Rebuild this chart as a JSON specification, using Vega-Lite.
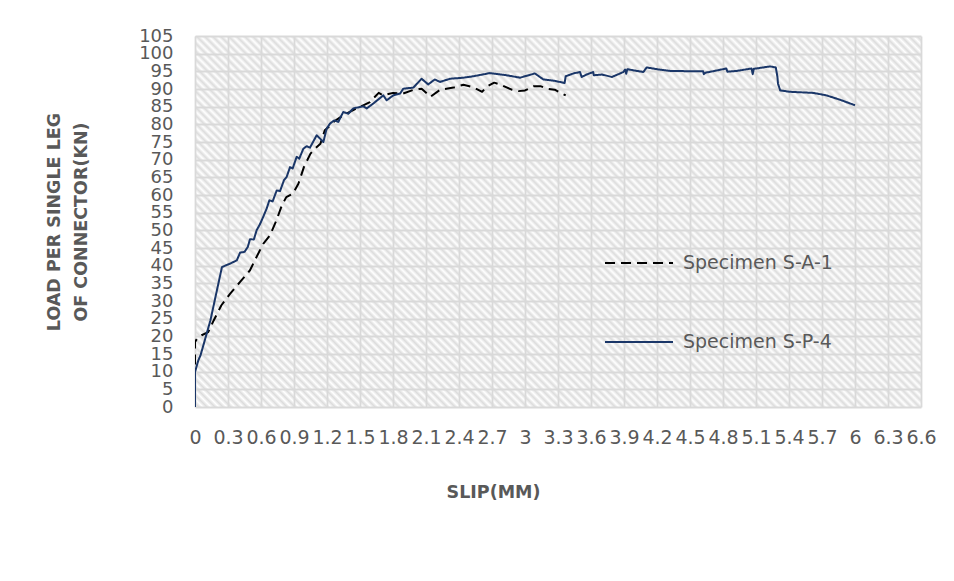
{
  "$schema": "https://vega.github.io/schema/vega-lite/v6.json",
  "autosize": "none",
  "width": 726,
  "height": 371,
  "padding": {"left": 195, "top": 36, "right": 33, "bottom": 174},
  "background": "#ffffff",
  "view": {
    "stroke": null,
    "fill": {
      "gradient": "linear", "x1": 0, "y1": 1, "x2": 1.198, "y2": 0.388,
      "stops": [
{"offset":0,"color":"#fff"},{"offset":0.0036,"color":"#dcdcdc"},{"offset":0.0073,"color":"#fff"},{"offset":0.0109,"color":"#dcdcdc"},{"offset":0.0146,"color":"#fff"},{"offset":0.0182,"color":"#dcdcdc"},{"offset":0.0219,"color":"#fff"},{"offset":0.0255,"color":"#dcdcdc"},{"offset":0.0292,"color":"#fff"},{"offset":0.0328,"color":"#dcdcdc"},
{"offset":0.0365,"color":"#fff"},{"offset":0.0401,"color":"#dcdcdc"},{"offset":0.0438,"color":"#fff"},{"offset":0.0474,"color":"#dcdcdc"},{"offset":0.0511,"color":"#fff"},{"offset":0.0547,"color":"#dcdcdc"},{"offset":0.0584,"color":"#fff"},{"offset":0.0620,"color":"#dcdcdc"},{"offset":0.0657,"color":"#fff"},{"offset":0.0693,"color":"#dcdcdc"},
{"offset":0.0730,"color":"#fff"},{"offset":0.0766,"color":"#dcdcdc"},{"offset":0.0803,"color":"#fff"},{"offset":0.0839,"color":"#dcdcdc"},{"offset":0.0876,"color":"#fff"},{"offset":0.0912,"color":"#dcdcdc"},{"offset":0.0949,"color":"#fff"},{"offset":0.0985,"color":"#dcdcdc"},{"offset":0.1022,"color":"#fff"},{"offset":0.1058,"color":"#dcdcdc"},
{"offset":0.1095,"color":"#fff"},{"offset":0.1131,"color":"#dcdcdc"},{"offset":0.1168,"color":"#fff"},{"offset":0.1204,"color":"#dcdcdc"},{"offset":0.1241,"color":"#fff"},{"offset":0.1277,"color":"#dcdcdc"},{"offset":0.1314,"color":"#fff"},{"offset":0.1350,"color":"#dcdcdc"},{"offset":0.1387,"color":"#fff"},{"offset":0.1423,"color":"#dcdcdc"},
{"offset":0.1460,"color":"#fff"},{"offset":0.1496,"color":"#dcdcdc"},{"offset":0.1533,"color":"#fff"},{"offset":0.1569,"color":"#dcdcdc"},{"offset":0.1606,"color":"#fff"},{"offset":0.1642,"color":"#dcdcdc"},{"offset":0.1679,"color":"#fff"},{"offset":0.1715,"color":"#dcdcdc"},{"offset":0.1752,"color":"#fff"},{"offset":0.1788,"color":"#dcdcdc"},
{"offset":0.1825,"color":"#fff"},{"offset":0.1861,"color":"#dcdcdc"},{"offset":0.1898,"color":"#fff"},{"offset":0.1934,"color":"#dcdcdc"},{"offset":0.1971,"color":"#fff"},{"offset":0.2007,"color":"#dcdcdc"},{"offset":0.2044,"color":"#fff"},{"offset":0.2080,"color":"#dcdcdc"},{"offset":0.2117,"color":"#fff"},{"offset":0.2153,"color":"#dcdcdc"},
{"offset":0.2190,"color":"#fff"},{"offset":0.2226,"color":"#dcdcdc"},{"offset":0.2263,"color":"#fff"},{"offset":0.2299,"color":"#dcdcdc"},{"offset":0.2336,"color":"#fff"},{"offset":0.2372,"color":"#dcdcdc"},{"offset":0.2409,"color":"#fff"},{"offset":0.2445,"color":"#dcdcdc"},{"offset":0.2482,"color":"#fff"},{"offset":0.2518,"color":"#dcdcdc"},
{"offset":0.2555,"color":"#fff"},{"offset":0.2591,"color":"#dcdcdc"},{"offset":0.2628,"color":"#fff"},{"offset":0.2664,"color":"#dcdcdc"},{"offset":0.2701,"color":"#fff"},{"offset":0.2737,"color":"#dcdcdc"},{"offset":0.2774,"color":"#fff"},{"offset":0.2810,"color":"#dcdcdc"},{"offset":0.2847,"color":"#fff"},{"offset":0.2883,"color":"#dcdcdc"},
{"offset":0.2920,"color":"#fff"},{"offset":0.2956,"color":"#dcdcdc"},{"offset":0.2993,"color":"#fff"},{"offset":0.3029,"color":"#dcdcdc"},{"offset":0.3066,"color":"#fff"},{"offset":0.3102,"color":"#dcdcdc"},{"offset":0.3139,"color":"#fff"},{"offset":0.3175,"color":"#dcdcdc"},{"offset":0.3212,"color":"#fff"},{"offset":0.3248,"color":"#dcdcdc"},
{"offset":0.3285,"color":"#fff"},{"offset":0.3321,"color":"#dcdcdc"},{"offset":0.3358,"color":"#fff"},{"offset":0.3394,"color":"#dcdcdc"},{"offset":0.3431,"color":"#fff"},{"offset":0.3467,"color":"#dcdcdc"},{"offset":0.3504,"color":"#fff"},{"offset":0.3540,"color":"#dcdcdc"},{"offset":0.3577,"color":"#fff"},{"offset":0.3613,"color":"#dcdcdc"},
{"offset":0.3650,"color":"#fff"},{"offset":0.3686,"color":"#dcdcdc"},{"offset":0.3723,"color":"#fff"},{"offset":0.3759,"color":"#dcdcdc"},{"offset":0.3796,"color":"#fff"},{"offset":0.3832,"color":"#dcdcdc"},{"offset":0.3869,"color":"#fff"},{"offset":0.3905,"color":"#dcdcdc"},{"offset":0.3942,"color":"#fff"},{"offset":0.3978,"color":"#dcdcdc"},
{"offset":0.4015,"color":"#fff"},{"offset":0.4051,"color":"#dcdcdc"},{"offset":0.4088,"color":"#fff"},{"offset":0.4124,"color":"#dcdcdc"},{"offset":0.4161,"color":"#fff"},{"offset":0.4197,"color":"#dcdcdc"},{"offset":0.4234,"color":"#fff"},{"offset":0.4270,"color":"#dcdcdc"},{"offset":0.4307,"color":"#fff"},{"offset":0.4343,"color":"#dcdcdc"},
{"offset":0.4380,"color":"#fff"},{"offset":0.4416,"color":"#dcdcdc"},{"offset":0.4453,"color":"#fff"},{"offset":0.4489,"color":"#dcdcdc"},{"offset":0.4526,"color":"#fff"},{"offset":0.4562,"color":"#dcdcdc"},{"offset":0.4599,"color":"#fff"},{"offset":0.4635,"color":"#dcdcdc"},{"offset":0.4672,"color":"#fff"},{"offset":0.4708,"color":"#dcdcdc"},
{"offset":0.4745,"color":"#fff"},{"offset":0.4781,"color":"#dcdcdc"},{"offset":0.4818,"color":"#fff"},{"offset":0.4854,"color":"#dcdcdc"},{"offset":0.4891,"color":"#fff"},{"offset":0.4927,"color":"#dcdcdc"},{"offset":0.4964,"color":"#fff"},{"offset":0.5000,"color":"#dcdcdc"},{"offset":0.5036,"color":"#fff"},{"offset":0.5073,"color":"#dcdcdc"},
{"offset":0.5109,"color":"#fff"},{"offset":0.5146,"color":"#dcdcdc"},{"offset":0.5182,"color":"#fff"},{"offset":0.5219,"color":"#dcdcdc"},{"offset":0.5255,"color":"#fff"},{"offset":0.5292,"color":"#dcdcdc"},{"offset":0.5328,"color":"#fff"},{"offset":0.5365,"color":"#dcdcdc"},{"offset":0.5401,"color":"#fff"},{"offset":0.5438,"color":"#dcdcdc"},
{"offset":0.5474,"color":"#fff"},{"offset":0.5511,"color":"#dcdcdc"},{"offset":0.5547,"color":"#fff"},{"offset":0.5584,"color":"#dcdcdc"},{"offset":0.5620,"color":"#fff"},{"offset":0.5657,"color":"#dcdcdc"},{"offset":0.5693,"color":"#fff"},{"offset":0.5730,"color":"#dcdcdc"},{"offset":0.5766,"color":"#fff"},{"offset":0.5803,"color":"#dcdcdc"},
{"offset":0.5839,"color":"#fff"},{"offset":0.5876,"color":"#dcdcdc"},{"offset":0.5912,"color":"#fff"},{"offset":0.5949,"color":"#dcdcdc"},{"offset":0.5985,"color":"#fff"},{"offset":0.6022,"color":"#dcdcdc"},{"offset":0.6058,"color":"#fff"},{"offset":0.6095,"color":"#dcdcdc"},{"offset":0.6131,"color":"#fff"},{"offset":0.6168,"color":"#dcdcdc"},
{"offset":0.6204,"color":"#fff"},{"offset":0.6241,"color":"#dcdcdc"},{"offset":0.6277,"color":"#fff"},{"offset":0.6314,"color":"#dcdcdc"},{"offset":0.6350,"color":"#fff"},{"offset":0.6387,"color":"#dcdcdc"},{"offset":0.6423,"color":"#fff"},{"offset":0.6460,"color":"#dcdcdc"},{"offset":0.6496,"color":"#fff"},{"offset":0.6533,"color":"#dcdcdc"},
{"offset":0.6569,"color":"#fff"},{"offset":0.6606,"color":"#dcdcdc"},{"offset":0.6642,"color":"#fff"},{"offset":0.6679,"color":"#dcdcdc"},{"offset":0.6715,"color":"#fff"},{"offset":0.6752,"color":"#dcdcdc"},{"offset":0.6788,"color":"#fff"},{"offset":0.6825,"color":"#dcdcdc"},{"offset":0.6861,"color":"#fff"},{"offset":0.6898,"color":"#dcdcdc"},
{"offset":0.6934,"color":"#fff"},{"offset":0.6971,"color":"#dcdcdc"},{"offset":0.7007,"color":"#fff"},{"offset":0.7044,"color":"#dcdcdc"},{"offset":0.7080,"color":"#fff"},{"offset":0.7117,"color":"#dcdcdc"},{"offset":0.7153,"color":"#fff"},{"offset":0.7190,"color":"#dcdcdc"},{"offset":0.7226,"color":"#fff"},{"offset":0.7263,"color":"#dcdcdc"},
{"offset":0.7299,"color":"#fff"},{"offset":0.7336,"color":"#dcdcdc"},{"offset":0.7372,"color":"#fff"},{"offset":0.7409,"color":"#dcdcdc"},{"offset":0.7445,"color":"#fff"},{"offset":0.7482,"color":"#dcdcdc"},{"offset":0.7518,"color":"#fff"},{"offset":0.7555,"color":"#dcdcdc"},{"offset":0.7591,"color":"#fff"},{"offset":0.7628,"color":"#dcdcdc"},
{"offset":0.7664,"color":"#fff"},{"offset":0.7701,"color":"#dcdcdc"},{"offset":0.7737,"color":"#fff"},{"offset":0.7774,"color":"#dcdcdc"},{"offset":0.7810,"color":"#fff"},{"offset":0.7847,"color":"#dcdcdc"},{"offset":0.7883,"color":"#fff"},{"offset":0.7920,"color":"#dcdcdc"},{"offset":0.7956,"color":"#fff"},{"offset":0.7993,"color":"#dcdcdc"},
{"offset":0.8029,"color":"#fff"},{"offset":0.8066,"color":"#dcdcdc"},{"offset":0.8102,"color":"#fff"},{"offset":0.8139,"color":"#dcdcdc"},{"offset":0.8175,"color":"#fff"},{"offset":0.8212,"color":"#dcdcdc"},{"offset":0.8248,"color":"#fff"},{"offset":0.8285,"color":"#dcdcdc"},{"offset":0.8321,"color":"#fff"},{"offset":0.8358,"color":"#dcdcdc"},
{"offset":0.8394,"color":"#fff"},{"offset":0.8431,"color":"#dcdcdc"},{"offset":0.8467,"color":"#fff"},{"offset":0.8504,"color":"#dcdcdc"},{"offset":0.8540,"color":"#fff"},{"offset":0.8577,"color":"#dcdcdc"},{"offset":0.8613,"color":"#fff"},{"offset":0.8650,"color":"#dcdcdc"},{"offset":0.8686,"color":"#fff"},{"offset":0.8723,"color":"#dcdcdc"},
{"offset":0.8759,"color":"#fff"},{"offset":0.8796,"color":"#dcdcdc"},{"offset":0.8832,"color":"#fff"},{"offset":0.8869,"color":"#dcdcdc"},{"offset":0.8905,"color":"#fff"},{"offset":0.8942,"color":"#dcdcdc"},{"offset":0.8978,"color":"#fff"},{"offset":0.9015,"color":"#dcdcdc"},{"offset":0.9051,"color":"#fff"},{"offset":0.9088,"color":"#dcdcdc"},
{"offset":0.9124,"color":"#fff"},{"offset":0.9161,"color":"#dcdcdc"},{"offset":0.9197,"color":"#fff"},{"offset":0.9234,"color":"#dcdcdc"},{"offset":0.9270,"color":"#fff"},{"offset":0.9307,"color":"#dcdcdc"},{"offset":0.9343,"color":"#fff"},{"offset":0.9380,"color":"#dcdcdc"},{"offset":0.9416,"color":"#fff"},{"offset":0.9453,"color":"#dcdcdc"},
{"offset":0.9489,"color":"#fff"},{"offset":0.9526,"color":"#dcdcdc"},{"offset":0.9562,"color":"#fff"},{"offset":0.9599,"color":"#dcdcdc"},{"offset":0.9635,"color":"#fff"},{"offset":0.9672,"color":"#dcdcdc"},{"offset":0.9708,"color":"#fff"},{"offset":0.9745,"color":"#dcdcdc"},{"offset":0.9781,"color":"#fff"},{"offset":0.9818,"color":"#dcdcdc"},
{"offset":0.9854,"color":"#fff"},{"offset":0.9891,"color":"#dcdcdc"},{"offset":0.9927,"color":"#fff"},{"offset":0.9964,"color":"#dcdcdc"},{"offset":1,"color":"#fff"}
      ]
    }
  },
  "data": {
    "values": [
      {"series": "Specimen S-A-1", "slip": 0, "load": 12.0},
      {"series": "Specimen S-A-1", "slip": 0, "load": 18.4},
      {"series": "Specimen S-A-1", "slip": 0.02, "load": 19.4},
      {"series": "Specimen S-A-1", "slip": 0.06, "load": 20.3},
      {"series": "Specimen S-A-1", "slip": 0.12, "load": 21.2},
      {"series": "Specimen S-A-1", "slip": 0.17, "load": 24.5},
      {"series": "Specimen S-A-1", "slip": 0.24, "load": 28.8},
      {"series": "Specimen S-A-1", "slip": 0.32, "load": 32.1},
      {"series": "Specimen S-A-1", "slip": 0.41, "load": 35.4},
      {"series": "Specimen S-A-1", "slip": 0.5, "load": 38.7},
      {"series": "Specimen S-A-1", "slip": 0.56, "load": 42.5},
      {"series": "Specimen S-A-1", "slip": 0.62, "load": 46.2},
      {"series": "Specimen S-A-1", "slip": 0.68, "load": 48.5},
      {"series": "Specimen S-A-1", "slip": 0.74, "load": 52.8},
      {"series": "Specimen S-A-1", "slip": 0.79, "load": 57.1},
      {"series": "Specimen S-A-1", "slip": 0.83, "load": 59.4},
      {"series": "Specimen S-A-1", "slip": 0.89, "load": 60.4},
      {"series": "Specimen S-A-1", "slip": 0.94, "load": 63.2},
      {"series": "Specimen S-A-1", "slip": 0.99, "load": 67.9},
      {"series": "Specimen S-A-1", "slip": 1.05, "load": 71.7},
      {"series": "Specimen S-A-1", "slip": 1.09, "load": 73.1},
      {"series": "Specimen S-A-1", "slip": 1.14, "load": 74.5},
      {"series": "Specimen S-A-1", "slip": 1.18, "load": 78.3},
      {"series": "Specimen S-A-1", "slip": 1.23, "load": 79.7},
      {"series": "Specimen S-A-1", "slip": 1.26, "load": 80.7},
      {"series": "Specimen S-A-1", "slip": 1.35, "load": 82.6},
      {"series": "Specimen S-A-1", "slip": 1.47, "load": 84.5},
      {"series": "Specimen S-A-1", "slip": 1.59, "load": 86.3},
      {"series": "Specimen S-A-1", "slip": 1.67, "load": 88.9},
      {"series": "Specimen S-A-1", "slip": 1.71, "load": 88.2},
      {"series": "Specimen S-A-1", "slip": 1.8, "load": 88.9},
      {"series": "Specimen S-A-1", "slip": 1.89, "load": 88.7},
      {"series": "Specimen S-A-1", "slip": 1.99, "load": 89.8},
      {"series": "Specimen S-A-1", "slip": 2.06, "load": 90.1},
      {"series": "Specimen S-A-1", "slip": 2.14, "load": 87.8},
      {"series": "Specimen S-A-1", "slip": 2.23, "load": 89.8},
      {"series": "Specimen S-A-1", "slip": 2.35, "load": 90.4},
      {"series": "Specimen S-A-1", "slip": 2.44, "load": 91.2},
      {"series": "Specimen S-A-1", "slip": 2.53, "load": 90.5},
      {"series": "Specimen S-A-1", "slip": 2.61, "load": 89.2},
      {"series": "Specimen S-A-1", "slip": 2.65, "load": 90.6},
      {"series": "Specimen S-A-1", "slip": 2.72, "load": 91.8},
      {"series": "Specimen S-A-1", "slip": 2.77, "load": 91.3},
      {"series": "Specimen S-A-1", "slip": 2.88, "load": 89.8},
      {"series": "Specimen S-A-1", "slip": 2.94, "load": 89.4},
      {"series": "Specimen S-A-1", "slip": 3.0, "load": 89.6},
      {"series": "Specimen S-A-1", "slip": 3.08, "load": 90.8},
      {"series": "Specimen S-A-1", "slip": 3.14, "load": 90.8},
      {"series": "Specimen S-A-1", "slip": 3.2, "load": 90.1},
      {"series": "Specimen S-A-1", "slip": 3.27, "load": 89.8},
      {"series": "Specimen S-A-1", "slip": 3.32, "load": 89.0},
      {"series": "Specimen S-A-1", "slip": 3.37, "load": 88.2},
      {"series": "Specimen S-P-4", "slip": 0, "load": 0},
      {"series": "Specimen S-P-4", "slip": 0, "load": 9.9},
      {"series": "Specimen S-P-4", "slip": 0.03, "load": 13.2},
      {"series": "Specimen S-P-4", "slip": 0.05, "load": 14.6},
      {"series": "Specimen S-P-4", "slip": 0.14, "load": 24.5},
      {"series": "Specimen S-P-4", "slip": 0.245, "load": 39.6},
      {"series": "Specimen S-P-4", "slip": 0.32, "load": 40.6},
      {"series": "Specimen S-P-4", "slip": 0.38, "load": 41.5},
      {"series": "Specimen S-P-4", "slip": 0.41, "load": 43.7},
      {"series": "Specimen S-P-4", "slip": 0.45, "load": 43.9},
      {"series": "Specimen S-P-4", "slip": 0.48, "load": 45.3},
      {"series": "Specimen S-P-4", "slip": 0.5, "load": 47.5},
      {"series": "Specimen S-P-4", "slip": 0.535, "load": 47.4},
      {"series": "Specimen S-P-4", "slip": 0.56, "load": 50.0},
      {"series": "Specimen S-P-4", "slip": 0.59, "load": 51.7},
      {"series": "Specimen S-P-4", "slip": 0.62, "load": 53.8},
      {"series": "Specimen S-P-4", "slip": 0.652, "load": 56.2},
      {"series": "Specimen S-P-4", "slip": 0.676, "load": 58.5},
      {"series": "Specimen S-P-4", "slip": 0.706, "load": 58.2},
      {"series": "Specimen S-P-4", "slip": 0.743, "load": 61.3},
      {"series": "Specimen S-P-4", "slip": 0.773, "load": 61.1},
      {"series": "Specimen S-P-4", "slip": 0.809, "load": 64.2},
      {"series": "Specimen S-P-4", "slip": 0.833, "load": 65.1},
      {"series": "Specimen S-P-4", "slip": 0.864, "load": 67.9},
      {"series": "Specimen S-P-4", "slip": 0.888, "load": 67.5},
      {"series": "Specimen S-P-4", "slip": 0.924, "load": 70.8},
      {"series": "Specimen S-P-4", "slip": 0.948, "load": 70.3},
      {"series": "Specimen S-P-4", "slip": 0.985, "load": 73.1},
      {"series": "Specimen S-P-4", "slip": 1.015, "load": 73.8},
      {"series": "Specimen S-P-4", "slip": 1.045, "load": 73.4},
      {"series": "Specimen S-P-4", "slip": 1.106, "load": 76.9},
      {"series": "Specimen S-P-4", "slip": 1.136, "load": 76.0},
      {"series": "Specimen S-P-4", "slip": 1.167, "load": 75.0},
      {"series": "Specimen S-P-4", "slip": 1.197, "load": 78.8},
      {"series": "Specimen S-P-4", "slip": 1.227, "load": 80.2},
      {"series": "Specimen S-P-4", "slip": 1.264, "load": 81.1},
      {"series": "Specimen S-P-4", "slip": 1.303, "load": 80.7},
      {"series": "Specimen S-P-4", "slip": 1.348, "load": 83.5},
      {"series": "Specimen S-P-4", "slip": 1.394, "load": 83.0},
      {"series": "Specimen S-P-4", "slip": 1.439, "load": 84.5},
      {"series": "Specimen S-P-4", "slip": 1.53, "load": 85.1},
      {"series": "Specimen S-P-4", "slip": 1.561, "load": 84.5},
      {"series": "Specimen S-P-4", "slip": 1.621, "load": 85.9},
      {"series": "Specimen S-P-4", "slip": 1.712, "load": 88.2},
      {"series": "Specimen S-P-4", "slip": 1.742, "load": 86.8},
      {"series": "Specimen S-P-4", "slip": 1.803, "load": 88.2},
      {"series": "Specimen S-P-4", "slip": 1.864, "load": 88.7},
      {"series": "Specimen S-P-4", "slip": 1.894, "load": 90.1},
      {"series": "Specimen S-P-4", "slip": 1.985, "load": 90.4},
      {"series": "Specimen S-P-4", "slip": 2.06, "load": 92.9},
      {"series": "Specimen S-P-4", "slip": 2.12, "load": 91.3},
      {"series": "Specimen S-P-4", "slip": 2.18, "load": 92.7},
      {"series": "Specimen S-P-4", "slip": 2.227, "load": 92.0},
      {"series": "Specimen S-P-4", "slip": 2.318, "load": 92.9},
      {"series": "Specimen S-P-4", "slip": 2.44, "load": 93.2},
      {"series": "Specimen S-P-4", "slip": 2.53, "load": 93.6},
      {"series": "Specimen S-P-4", "slip": 2.68, "load": 94.5},
      {"series": "Specimen S-P-4", "slip": 2.83, "load": 93.9},
      {"series": "Specimen S-P-4", "slip": 2.955, "load": 93.2},
      {"series": "Specimen S-P-4", "slip": 3.09, "load": 94.4},
      {"series": "Specimen S-P-4", "slip": 3.167, "load": 92.7},
      {"series": "Specimen S-P-4", "slip": 3.27, "load": 92.3},
      {"series": "Specimen S-P-4", "slip": 3.36, "load": 91.7},
      {"series": "Specimen S-P-4", "slip": 3.37, "load": 93.6},
      {"series": "Specimen S-P-4", "slip": 3.44, "load": 94.4},
      {"series": "Specimen S-P-4", "slip": 3.5, "load": 94.8},
      {"series": "Specimen S-P-4", "slip": 3.515, "load": 93.4},
      {"series": "Specimen S-P-4", "slip": 3.56, "load": 94.1},
      {"series": "Specimen S-P-4", "slip": 3.62, "load": 94.8},
      {"series": "Specimen S-P-4", "slip": 3.625, "load": 93.9},
      {"series": "Specimen S-P-4", "slip": 3.7, "load": 94.1},
      {"series": "Specimen S-P-4", "slip": 3.79, "load": 93.4},
      {"series": "Specimen S-P-4", "slip": 3.894, "load": 94.8},
      {"series": "Specimen S-P-4", "slip": 3.91, "load": 95.5},
      {"series": "Specimen S-P-4", "slip": 3.92, "load": 94.3},
      {"series": "Specimen S-P-4", "slip": 3.93, "load": 95.6},
      {"series": "Specimen S-P-4", "slip": 4.076, "load": 94.8},
      {"series": "Specimen S-P-4", "slip": 4.106, "load": 96.1},
      {"series": "Specimen S-P-4", "slip": 4.2, "load": 95.6},
      {"series": "Specimen S-P-4", "slip": 4.32, "load": 95.1},
      {"series": "Specimen S-P-4", "slip": 4.62, "load": 95.0},
      {"series": "Specimen S-P-4", "slip": 4.625, "load": 94.2},
      {"series": "Specimen S-P-4", "slip": 4.64, "load": 94.6},
      {"series": "Specimen S-P-4", "slip": 4.83, "load": 95.8},
      {"series": "Specimen S-P-4", "slip": 4.84, "load": 94.9},
      {"series": "Specimen S-P-4", "slip": 4.92, "load": 95.1},
      {"series": "Specimen S-P-4", "slip": 5.06, "load": 95.8},
      {"series": "Specimen S-P-4", "slip": 5.07, "load": 94.2},
      {"series": "Specimen S-P-4", "slip": 5.08, "load": 95.7},
      {"series": "Specimen S-P-4", "slip": 5.227, "load": 96.4},
      {"series": "Specimen S-P-4", "slip": 5.28, "load": 96.1},
      {"series": "Specimen S-P-4", "slip": 5.295, "load": 93.4},
      {"series": "Specimen S-P-4", "slip": 5.3, "load": 91.5},
      {"series": "Specimen S-P-4", "slip": 5.32, "load": 89.6},
      {"series": "Specimen S-P-4", "slip": 5.41, "load": 89.2},
      {"series": "Specimen S-P-4", "slip": 5.62, "load": 88.9},
      {"series": "Specimen S-P-4", "slip": 5.74, "load": 88.2},
      {"series": "Specimen S-P-4", "slip": 5.86, "load": 87.0},
      {"series": "Specimen S-P-4", "slip": 6.0, "load": 85.4}
    ]
  },
  "mark": {"type": "line", "strokeWidth": 2, "strokeJoin": "round", "clip": true},
  "encoding": {
    "x": {
      "field": "slip", "type": "quantitative",
      "scale": {"domain": [0, 6.6], "nice": false, "zero": false},
      "axis": {
        "values": [0, 0.3, 0.6, 0.9, 1.2, 1.5, 1.8, 2.1, 2.4, 2.7, 3, 3.3, 3.6, 3.9, 4.2, 4.5, 4.8, 5.1, 5.4, 5.7, 6, 6.3, 6.6],
        "format": ".1~f",
        "title": "SLIP(MM)",
        "titleX": 298, "titleY": 85, "titleBaseline": "middle", "titleAlign": "center",
        "labelPadding": 21, "labelFontSize": 19
      }
    },
    "y": {
      "field": "load", "type": "quantitative",
      "scale": {"domain": [0, 105], "nice": false},
      "axis": {
        "values": [0, 5, 10, 15, 20, 25, 30, 35, 40, 45, 50, 55, 60, 65, 70, 75, 80, 85, 90, 95, 100, 105],
        "title": ["LOAD PER SINGLE LEG", "OF CONNECTOR(KN)"],
        "titleX": -141, "titleY": 185.5, "titleBaseline": "middle", "titleAlign": "center", "titleAngle": -90,
        "titleLineHeight": 27,
        "labelPadding": 22, "labelFontSize": 18
      }
    },
    "color": {
      "field": "series", "type": "nominal",
      "scale": {"domain": ["Specimen S-A-1", "Specimen S-P-4"], "range": ["#000000", "#1a3668"]},
      "legend": {"orient": "none", "legendX": 409, "legendY": 192, "title": null}
    },
    "strokeDash": {
      "field": "series", "type": "nominal",
      "scale": {"domain": ["Specimen S-A-1", "Specimen S-P-4"], "range": [[10, 6], [1, 0]]},
      "legend": {"orient": "none", "legendX": 409, "legendY": 192, "title": null}
    },
    "order": {"value": null}
  },
  "config": {
    "axis": {
      "grid": true, "gridColor": "#d9d9d9", "gridWidth": 1.8,
      "ticks": false, "domain": false,
      "labelFont": "DejaVu Sans", "labelColor": "#595959",
      "labelOverlap": false, "labelBound": false, "labelFlush": false,
      "titleFont": "DejaVu Sans", "titleFontSize": 17.5, "titleFontWeight": "bold", "titleColor": "#595959"
    },
    "legend": {
      "symbolType": "stroke", "symbolSize": 4624, "symbolStrokeWidth": 2,
      "labelFont": "DejaVu Sans", "labelFontSize": 19, "labelColor": "#595959",
      "labelOffset": 9, "rowPadding": 34
    }
  }
}
